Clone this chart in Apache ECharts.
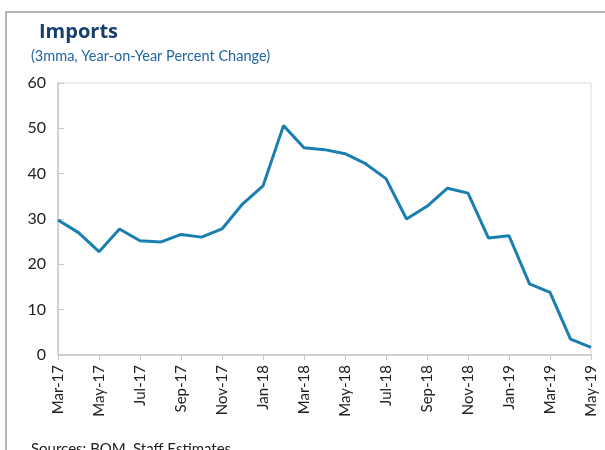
<!DOCTYPE html>
<html>
<head>
<meta charset="utf-8">
<script src="https://cdn.jsdelivr.net/npm/echarts@6/dist/echarts.min.js"></script>
<style>
  html, body { margin: 0; padding: 0; background: #fff; }
  #chart { width: 605px; height: 450px; }
</style>
</head>
<body>
<div id="chart"></div>
<script>
// months Mar-17 .. May-19
var months = ['Mar-17','Apr-17','May-17','Jun-17','Jul-17','Aug-17','Sep-17','Oct-17','Nov-17','Dec-17',
  'Jan-18','Feb-18','Mar-18','Apr-18','May-18','Jun-18','Jul-18','Aug-18','Sep-18','Oct-18','Nov-18','Dec-18',
  'Jan-19','Feb-19','Mar-19','Apr-19','May-19'];
var imports = [29.8, 27.0, 22.8, 27.8, 25.2, 24.9, 26.6, 26.0, 27.8, 33.3,
  37.3, 50.6, 45.7, 45.3, 44.4, 42.2, 38.9, 30.0, 32.8, 36.8, 35.7, 25.8,
  26.3, 15.7, 13.8, 3.5, 1.7];
var yTicks = [0, 10, 20, 30, 40, 50, 60];

var chart = echarts.init(document.getElementById('chart'));
var font = 'Lato, "Open Sans", sans-serif';

var option = {
  animation: false,
  textStyle: { fontFamily: font },
  title: [
    {
      text: 'Imports',
      left: 34, top: 17,
      textStyle: { fontFamily: '"Open Sans", sans-serif', fontSize: 20, fontWeight: 'bold', color: '#173f6e' }
    },
    {
      text: '(3mma, Year-on-Year Percent Change)',
      left: 26, top: 44,
      textStyle: { fontFamily: font, fontSize: 14.5, fontWeight: 'normal', color: '#2166a6' }
    },
    {
      text: 'Sources: BOM, Staff Estimates',
      left: 26, top: 437,
      textStyle: { fontFamily: font, fontSize: 15, fontWeight: 'normal', color: '#222' }
    }
  ],
  graphic: [
    {
      type: 'polyline',
      shape: { points: [[6, 450], [6, 12], [605, 12]] },
      style: { stroke: '#a0a0a0', lineWidth: 1.5, fill: null }
    }
  ],
  grid: {
    left: 58, right: 14, top: 83, bottom: 95,
    show: true, borderColor: '#d9d9d9', borderWidth: 1
  },
  xAxis: {
    type: 'category',
    data: months,
    boundaryGap: false,
    axisLine: { lineStyle: { color: '#c8c8c8', width: 1.5 } },
    axisTick: { interval: 1, length: 5, lineStyle: { color: '#c8c8c8' } },
    axisLabel: {
      interval: 1, rotate: 90, margin: 10,
      fontFamily: font, fontSize: 15, color: '#222'
    },
    splitLine: { show: false }
  },
  yAxis: {
    type: 'value',
    min: yTicks[0], max: yTicks[yTicks.length - 1], interval: 10,
    axisLine: { show: true, lineStyle: { color: '#c8c8c8', width: 1.5 } },
    axisTick: { show: true, inside: true, length: 6, lineStyle: { color: '#c8c8c8' } },
    axisLabel: { fontFamily: font, fontSize: 16, color: '#222', margin: 12 },
    splitLine: { show: false }
  },
  series: [
    {
      name: 'Imports',
      type: 'line',
      data: imports,
      symbol: 'none',
      lineStyle: { color: '#1a7fae', width: 3 }
    }
  ]
};
chart.setOption(option);
</script>
</body>
</html>
